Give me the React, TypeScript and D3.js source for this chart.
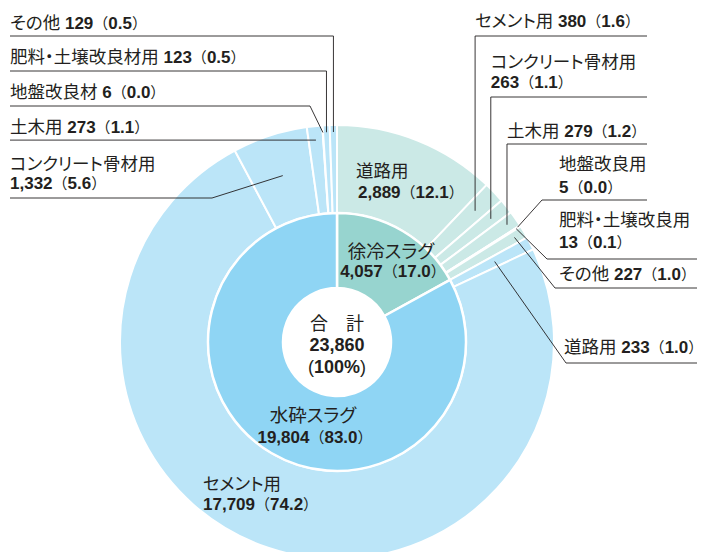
import * as d3 from "d3";

// 内側: スラグ種類
const slagNames = ["徐冷スラグ", "水砕スラグ"];
const slagValues = [4057, 19804];
const slagShares = ["17.0", "83.0"];
const totalValue = 23860;

// 外側: 徐冷スラグの用途
const slowUses = ["道路用", "セメント用", "コンクリート骨材用", "土木用", "地盤改良用", "肥料・土壌改良用", "その他"];
const slowValues = [2889, 380, 263, 279, 5, 13, 227];
const slowShares = ["12.1", "1.6", "1.1", "1.2", "0.0", "0.1", "1.0"];

// 外側: 水砕スラグの用途
const waterUses = ["道路用", "セメント用", "コンクリート骨材用", "土木用", "地盤改良材", "肥料・土壌改良材用", "その他"];
const waterValues = [233, 17709, 1332, 273, 6, 123, 129];
const waterShares = ["1.0", "74.2", "5.6", "1.1", "0.0", "0.5", "0.5"];

const innerColors = ["#97d4cf", "#8fd5f4"];
const outerColors = ["#cbe9e6", "#bbe5f8"];

const cx = 337;
const cy = 342;
const rHole = 54;
const rInner = 129;
const rOuter = 217;

const ink = "#231f20";
const font = "'Liberation Sans', 'Noto Sans CJK JP', sans-serif";
const fmt = d3.format(",");
const palt = { fontFeatureSettings: '"palt"' };

// ラベルの配置 (外側14項目の順)
// kind: in=扇形内, v=垂直線, d=斜線, h=水平線
type Lay = { kind: string; r?: number; ex?: number; ly?: number; x2?: number; tx: number | null; ty: number[] };
const labelLayout: Lay[] = [
  { kind: "in", tx: 356, ty: [177, 198] },
  { kind: "v", r: 190.5, ly: 36, x2: 647, tx: null, ty: [27] },
  { kind: "v", r: 197, ly: 97, x2: 647, tx: null, ty: [68, 88] },
  { kind: "v", r: 206.5, ly: 144, x2: 647, tx: null, ty: [137] },
  { kind: "d", r: 214, ex: 542, ly: 200, x2: 647, tx: 559, ty: [170, 193] },
  { kind: "d", r: 212, ex: 547, ly: 259, x2: 697, tx: 559, ty: [226, 248] },
  { kind: "d", r: 206, ex: 555, ly: 288, x2: 697, tx: 559, ty: [280] },
  { kind: "d", r: 177, ex: 566, ly: 363, x2: 697, tx: 564, ty: [353] },
  { kind: "in", tx: 203, ty: [490, 510] },
  { kind: "d", r: 175, ex: 212, ly: 198, x2: 10, tx: 10, ty: [170, 189] },
  { kind: "h", r: 203, x2: 10, tx: 10, ty: [133] },
  { kind: "d", r: 210, ex: 310, ly: 106, x2: 10, tx: 10, ty: [98] },
  { kind: "v", r: 210, ly: 71, x2: 10, tx: 10, ty: [63] },
  { kind: "v", r: 210, ly: 36, x2: 10, tx: 10, ty: [29] },
];

function ValueSpans(props: { value: number; share: string }) {
  return (
    <>
      <tspan fontWeight="bold" fontSize={17}>{fmt(props.value)}</tspan>
      <tspan fontSize={15}>（</tspan>
      <tspan fontWeight="bold" fontSize={17}>{props.share}</tspan>
      <tspan fontSize={15}>）</tspan>
    </>
  );
}

export default function App() {
  const pie = d3.pie<number>().sort(null).value((d) => d);
  const inner = pie(slagValues);

  const groups = [
    { uses: slowUses, values: slowValues, shares: slowShares },
    { uses: waterUses, values: waterValues, shares: waterShares },
  ];
  const outer = groups.flatMap((g, gi) =>
    d3
      .pie<number>()
      .sort(null)
      .value((d) => d)
      .startAngle(inner[gi].startAngle)
      .endAngle(inner[gi].endAngle)(g.values)
      .map((a, i) => ({ arc: a, group: gi, name: g.uses[i], value: g.values[i], share: g.shares[i] }))
  );

  const innerArc = d3.arc<d3.PieArcDatum<number>>().innerRadius(rHole).outerRadius(rInner);
  const outerArc = d3.arc<d3.PieArcDatum<number>>().innerRadius(rInner).outerRadius(rOuter);

  const at = (a: d3.PieArcDatum<number>, r: number) => {
    const m = (a.startAngle + a.endAngle) / 2;
    return [cx + r * Math.sin(m), cy - r * Math.cos(m)];
  };

  return (
    <svg width={704} height={552} style={{ position: "absolute", left: 0, top: 0, background: "#fff" }} fontFamily={font}>
      <g transform={`translate(${cx},${cy})`}>
        {outer.map((d, i) => (
          <path key={"o" + i} d={outerArc(d.arc) || ""} fill={outerColors[d.group]} stroke="#fff" strokeWidth={2} strokeLinejoin="round" />
        ))}
        {inner.map((d, i) => (
          <path key={"i" + i} d={innerArc(d) || ""} fill={innerColors[i]} stroke="#fff" strokeWidth={2.5} strokeLinejoin="round" />
        ))}
      </g>

      {/* 引出線 */}
      {outer.map((d, i) => {
        const l = labelLayout[i];
        if (l.kind === "in") return null;
        const [ax, ay] = at(d.arc, l.r!);
        let pts: number[][];
        if (l.kind === "v") pts = [[ax, ay], [ax, l.ly!], [l.x2!, l.ly!]];
        else if (l.kind === "d") pts = [[ax, ay], [l.ex!, l.ly!], [l.x2!, l.ly!]];
        else pts = [[ax, ay], [l.x2!, ay]];
        return (
          <path key={"l" + i} d={d3.line()(pts as [number, number][]) || ""} fill="none" stroke={ink} strokeWidth={0.9} />
        );
      })}

      {/* ラベル */}
      {outer.map((d, i) => {
        const l = labelLayout[i];
        const tx = l.tx !== null ? l.tx : at(d.arc, l.r!)[0];
        if (l.ty.length === 2) {
          return (
            <g key={"t" + i} fill={ink}>
              <text x={tx} y={l.ty[0]} fontSize={17.5} style={palt}>{d.name}</text>
              <text x={tx + (i === 0 ? 2 : 0)} y={l.ty[1]}>
                <ValueSpans value={d.value} share={d.share} />
              </text>
            </g>
          );
        }
        return (
          <text key={"t" + i} x={tx} y={l.ty[0]} fill={ink}>
            <tspan fontSize={17.5} style={palt}>{d.name}</tspan>
            <tspan fontSize={17}> </tspan>
            <ValueSpans value={d.value} share={d.share} />
          </text>
        );
      })}

      {/* 内側ラベル */}
      <g fill={ink} textAnchor="middle">
        <text x={391} y={258} fontSize={18.5} style={palt}>{slagNames[0]}</text>
        <text x={393} y={277}>
          <ValueSpans value={slagValues[0]} share={slagShares[0]} />
        </text>
        <text x={313} y={422} fontSize={18.5} style={palt}>{slagNames[1]}</text>
        <text x={315} y={443}>
          <ValueSpans value={slagValues[1]} share={slagShares[1]} />
        </text>
      </g>

      {/* 中央 */}
      <g fill={ink} textAnchor="middle" fontSize={18}>
        <text x={cx} y={330}>合　計</text>
        <text x={cx} y={351} fontWeight="bold">{fmt(totalValue)}</text>
        <text x={cx} y={373}>
          <tspan>(</tspan>
          <tspan fontWeight="bold">100%</tspan>
          <tspan>)</tspan>
        </text>
      </g>
    </svg>
  );
}
